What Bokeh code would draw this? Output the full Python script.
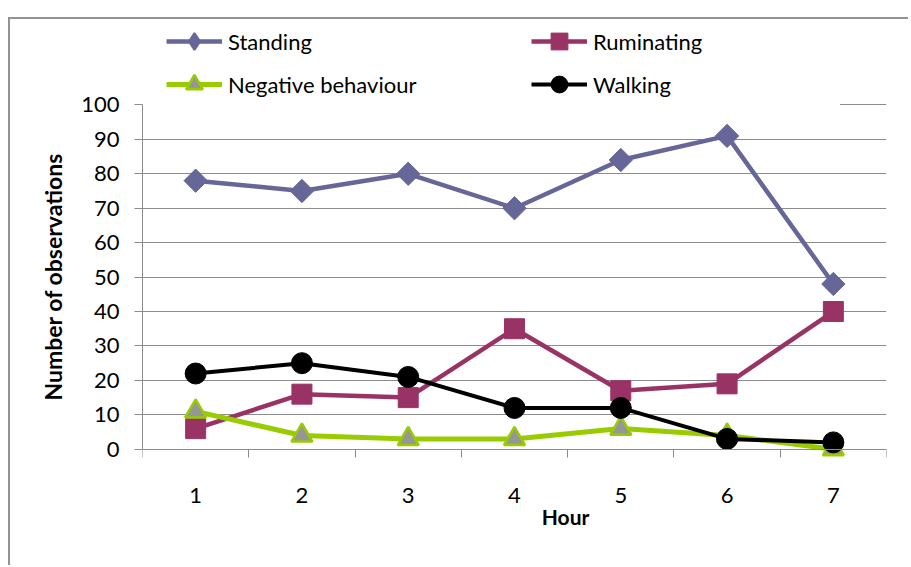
import numpy as np
from bokeh.plotting import figure
from bokeh.models import Range1d, FixedTicker, Legend, LegendItem, Label, Title
from bokeh.embed import file_html
from bokeh.resources import INLINE

# Observation counts per hour for each behaviour
hours = [1, 2, 3, 4, 5, 6, 7]
standing = [78, 75, 80, 70, 84, 91, 48]
ruminating = [6, 16, 15, 35, 17, 19, 40]
negative = [11, 4, 3, 3, 6, 4, 0]
walking = [22, 25, 21, 12, 12, 3, 2]

y_ticks = [0, 10, 20, 30, 40, 50, 60, 70, 80, 90, 100]
hour_bounds = [0.5, 1.5, 2.5, 3.5, 4.5, 5.5, 6.5, 7.5]

FONT = "Lato"
GRID = "#8c8c8c"
BORDER = "#939393"

p = figure(
    width=900, height=548,
    x_range=Range1d(0.5, 7.5), y_range=Range1d(-32.3, 124.8),
    output_backend="svg", toolbar_location=None,
    margin=(17, 0, 0, 8),
    styles={"border-top": f"2px solid {BORDER}", "border-left": f"2px solid {BORDER}"},
    min_border_left=132, min_border_right=24, min_border_top=0, min_border_bottom=7,
)
p.outline_line_color = None
p.background_fill_color = "white"
p.border_fill_color = "white"

# horizontal grid only
p.xgrid.visible = False
p.ygrid.ticker = FixedTicker(ticks=y_ticks)
p.ygrid.grid_line_color = GRID
p.ygrid.grid_line_width = 1

# x axis sits on the zero line, tick marks between hours
xa = p.xaxis[0]
xa.fixed_location = 0
xa.ticker = FixedTicker(ticks=hours, minor_ticks=hour_bounds)
xa.axis_line_color = GRID
xa.major_tick_line_color = None
xa.major_tick_out = 0
xa.major_tick_in = 0
xa.minor_tick_line_color = GRID
xa.minor_tick_out = 8
xa.minor_tick_in = 0
xa.major_label_standoff = 31
xa.major_label_text_font = FONT
xa.major_label_text_font_size = "22px"
xa.major_label_text_color = "black"

ya = p.yaxis[0]
ya.ticker = FixedTicker(ticks=y_ticks)
ya.bounds = (0, 100)
ya.axis_line_color = GRID
ya.major_tick_line_color = GRID
ya.major_tick_out = 8
ya.major_tick_in = 0
ya.minor_tick_line_color = None
ya.major_label_standoff = 15
ya.major_label_text_font = FONT
ya.major_label_text_font_size = "22px"
ya.major_label_text_color = "black"

series = [
    ("Standing", standing, "#666699", 4.5,
     dict(marker="square", angle=np.pi / 4, size=16.5, fill_color="#666699", line_color="#666699")),
    ("Ruminating", ruminating, "#993366", 4.5,
     dict(marker="square", size=20, fill_color="#993366", line_color="#993366")),
    ("Negative behaviour", negative, "#99CC00", 5,
     dict(marker="triangle", size=21, fill_color="#969696", line_color="#99CC00", line_width=2.5)),
    ("Walking", walking, "#000000", 4,
     dict(marker="circle", size=21, fill_color="#000000", line_color="#000000")),
]

items = []
for name, vals, color, lw, mk in series:
    ln = p.line(hours, vals, line_color=color, line_width=lw, line_join="round")
    sc = p.scatter(hours, vals, **mk)
    if name == "Standing":
        # legend swatch: the legend does not rotate markers, so use a diamond shape
        key = p.scatter(x=np.array([np.nan]), y=np.array([np.nan]), marker="diamond",
                        fill_color=color, line_color=color, line_width=2)
        items.append(LegendItem(label=name, renderers=[ln, key]))
    else:
        items.append(LegendItem(label=name, renderers=[ln, sc]))

legend_style = dict(
    glyph_width=56, glyph_height=42, label_height=42, spacing=1, label_standoff=6,
    label_text_font=FONT, label_text_font_size="22px", label_text_color="black",
    background_fill_color="white", background_fill_alpha=1.0,
    border_line_color="white", border_line_width=1,
)
legend_left = Legend(items=[items[0], items[2]], location=(1, 432), padding=22,
                     label_width=280, **legend_style)
legend_right = Legend(items=[items[1], items[3]], location=(378, 444), padding=10,
                      label_width=236, **legend_style)
p.add_layout(legend_left)
p.add_layout(legend_right)

# axis titles
p.add_layout(Title(text="Number of observations", align="left", offset=160,
                   vertical_align="middle", standoff=22, text_font=FONT,
                   text_font_style="bold", text_font_size="23px", text_color="black"), "left")
p.add_layout(Label(x=4.48, y=-19.5, text="Hour", text_align="center", text_baseline="middle",
                   text_font=FONT, text_font_style="bold", text_font_size="21px",
                   text_color="black"))

open("out.html", "w").write(file_html(p, INLINE))
